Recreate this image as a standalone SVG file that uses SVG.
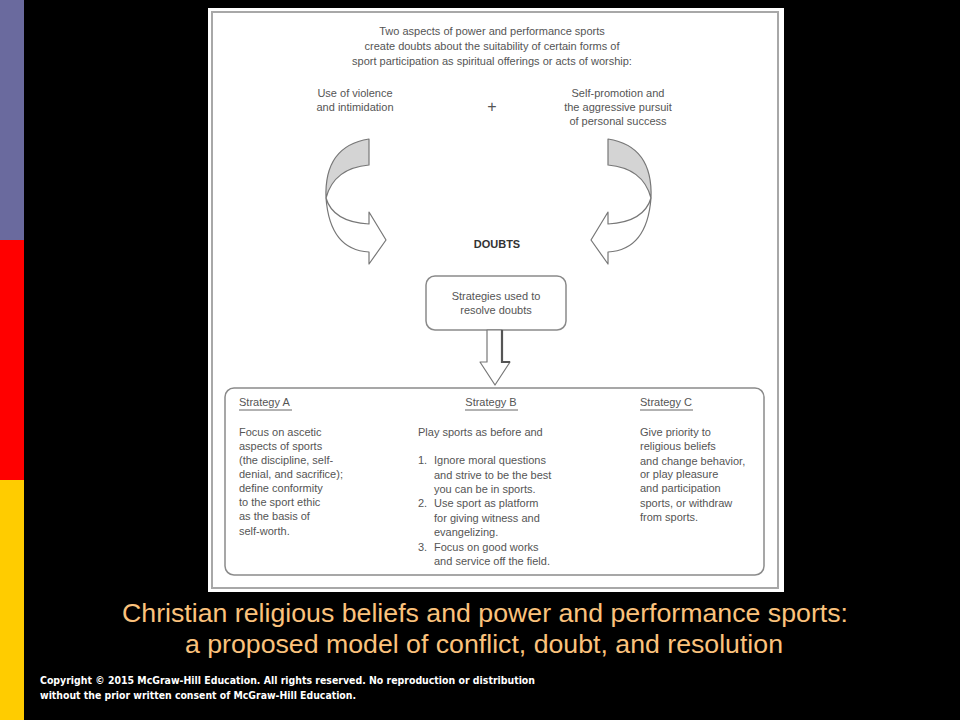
<svg xmlns="http://www.w3.org/2000/svg" width="960" height="720" viewBox="0 0 960 720">
<style>
.d{font-family:"Liberation Sans","DejaVu Sans",sans-serif;font-size:11px;fill:#555}
.c{text-anchor:middle}
.box{fill:#fff;stroke:#8a8a8a;stroke-width:1.5}
.arr{fill:#fff;stroke:#777;stroke-width:1.2;stroke-linejoin:round}
.cres{fill:#d4d4d4;stroke:#777;stroke-width:1.2;stroke-linejoin:round}
.ul{stroke:#666;stroke-width:1}
.cap{font-family:"Liberation Sans",Arial,sans-serif;font-size:25px;fill:#fbc27c;text-anchor:middle}
.copy{font-family:"DejaVu Sans Condensed","DejaVu Sans",sans-serif;font-size:11px;font-weight:bold;fill:#fff}
</style>
<rect width="960" height="720" fill="#000"/>
<rect x="0" y="0" width="24" height="240" fill="#6a6a9e"/>
<rect x="0" y="240" width="24" height="240" fill="#ff0000"/>
<rect x="0" y="480" width="24" height="240" fill="#ffcc00"/>
<rect x="208" y="8" width="576" height="584" fill="#fff"/>
<rect x="212" y="12" width="566" height="576" fill="none" stroke="#a8a8a8" stroke-width="2"/>

<g id="intro">
<text class="d c" x="492" y="35">Two aspects of power and performance sports</text>
<text class="d c" x="492" y="50">create doubts about the suitability of certain forms of</text>
<text class="d c" x="492" y="65">sport participation as spiritual offerings or acts of worship:</text>
</g>
<g id="violence">
<text class="d c" x="355" y="97">Use of violence</text>
<text class="d c" x="355" y="111">and intimidation</text>
</g>
<g id="plus"><text class="d c" x="492" y="112" style="font-size:16px">+</text></g>
<g id="selfpromotion">
<text class="d c" x="618" y="97">Self-promotion and</text>
<text class="d c" x="618" y="111">the aggressive pursuit</text>
<text class="d c" x="618" y="125">of personal success</text>
</g>
<g id="doubts"><text class="d c" x="497" y="248" style="font-weight:bold;fill:#333">DOUBTS</text></g>
<g id="strategies">
<rect class="box" x="426" y="276" width="140" height="54" rx="9"/>
<text class="d c" x="496" y="300">Strategies used to</text>
<text class="d c" x="496" y="314">resolve doubts</text>
</g>

<g id="connectors">
<g id="arrow-left">
<path class="arr" d="M326,198 Q333,222 369,224 L369,212 L386,240 L369,264 L369,252 Q330,250 326,198 Z"/>
<path class="cres" d="M369,139 L369,165 Q334,168 326,198 Q324,146 369,139 Z"/>
</g>
<g id="arrow-right" transform="translate(977,0) scale(-1,1)">
<path class="arr" d="M326,198 Q333,222 369,224 L369,212 L386,240 L369,264 L369,252 Q330,250 326,198 Z"/>
<path class="cres" d="M369,139 L369,165 Q334,168 326,198 Q324,146 369,139 Z"/>
</g>
<g id="arrow-down">
<path class="arr" d="M487,330 L487,362 L480,362 L495,385 L510,362 L502,362 L502,330 Z"/>
<path d="M502,330 L502,362 L510,362" fill="none" stroke="#555" stroke-width="2.2"/>
</g>
</g>

<g id="strategy-box">
<rect class="box" x="225" y="388" width="539" height="187" rx="9"/>
</g>
<g id="strategy-a">
<text class="d" x="239" y="406">Strategy A</text>
<line class="ul" x1="239" y1="410" x2="292" y2="410"/>
<text class="d" x="239" y="436">Focus on ascetic</text>
<text class="d" x="239" y="450">aspects of sports</text>
<text class="d" x="239" y="464">(the discipline, self-</text>
<text class="d" x="239" y="478">denial, and sacrifice);</text>
<text class="d" x="239" y="492">define conformity</text>
<text class="d" x="239" y="506">to the sport ethic</text>
<text class="d" x="239" y="520">as the basis of</text>
<text class="d" x="239" y="535">self-worth.</text>
</g>
<g id="strategy-b">
<text class="d c" x="491" y="406">Strategy B</text>
<line class="ul" x1="465" y1="410" x2="518" y2="410"/>
<text class="d" x="418" y="436">Play sports as before and</text>
<text class="d" x="418" y="464">1.</text>
<text class="d" x="434" y="464">Ignore moral questions</text>
<text class="d" x="434" y="479">and strive to be the best</text>
<text class="d" x="434" y="493">you can be in sports.</text>
<text class="d" x="418" y="507">2.</text>
<text class="d" x="434" y="507">Use sport as platform</text>
<text class="d" x="434" y="522">for giving witness and</text>
<text class="d" x="434" y="536">evangelizing.</text>
<text class="d" x="418" y="551">3.</text>
<text class="d" x="434" y="551">Focus on good works</text>
<text class="d" x="434" y="565">and service off the field.</text>
</g>
<g id="strategy-c">
<text class="d" x="640" y="406">Strategy C</text>
<line class="ul" x1="640" y1="410" x2="693" y2="410"/>
<text class="d" x="640" y="436">Give priority to</text>
<text class="d" x="640" y="450">religious beliefs</text>
<text class="d" x="640" y="465">and change behavior,</text>
<text class="d" x="640" y="478">or play pleasure</text>
<text class="d" x="640" y="492">and participation</text>
<text class="d" x="640" y="507">sports, or withdraw</text>
<text class="d" x="640" y="521">from sports.</text>
</g>

<g id="caption">
<text class="cap" x="485" y="622" textLength="726" lengthAdjust="spacingAndGlyphs">Christian religious beliefs and power and performance sports:</text>
<text class="cap" x="484" y="653" textLength="598" lengthAdjust="spacingAndGlyphs">a proposed model of conflict, doubt, and resolution</text>
</g>
<g id="copyright">
<text class="copy" x="40" y="684" textLength="495" lengthAdjust="spacingAndGlyphs">Copyright © 2015 McGraw-Hill Education. All rights reserved. No reproduction or distribution</text>
<text class="copy" x="40" y="699" textLength="316" lengthAdjust="spacingAndGlyphs">without the prior written consent of McGraw-Hill Education.</text>
</g>
</svg>
